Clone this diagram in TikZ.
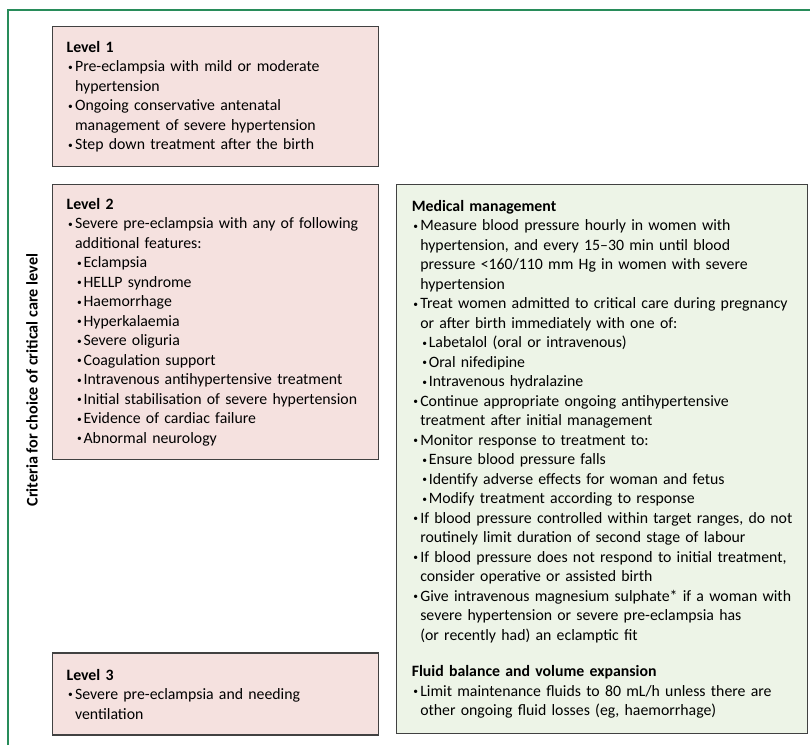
\documentclass[tikz,border=0pt]{standalone}
\usepackage{fontspec}
\setmainfont{Carlito}
\usetikzlibrary{positioning}

\definecolor{levelpink}{RGB}{245,225,223}
\definecolor{mgmtgreen}{RGB}{237,244,231}
\definecolor{framegreen}{RGB}{40,140,90}
\definecolor{boxline}{RGB}{65,65,65}

% bullets and hanging indents
\newcommand{\smalldot}{\raisebox{0.2ex}{\scalebox{0.6}{\textbullet}}}
\newcommand{\bul}{\makebox[8.5pt][l]{\hspace*{1.5pt}\smalldot}}
\newcommand{\ind}{\hspace*{8.5pt}}
\newcommand{\subbul}{\hspace*{10.5pt}\makebox[6.5pt][l]{\smalldot}}

\begin{document}
\begin{tikzpicture}[
        x = 1pt, y = -1pt,
        box/.style   = {draw=boxline, line width=1.2pt, anchor=north west, align=left,
                        inner xsep=14pt, inner ysep=0pt, font=\fontsize{15.8}{19.5}\selectfont},
        level/.style = {box, fill=levelpink, text width=298pt, minimum width=326pt},
        mgmt/.style  = {box, fill=mgmtgreen, inner xsep=15pt, text width=381pt, minimum width=411pt},
    ]
    \useasboundingbox (0,0) rectangle (810,745);
    \draw[framegreen, line width=2pt] (8,745) -- (8,10) -- (810,10);

    \node[rotate=90, font=\fontsize{16.2}{18}\selectfont\bfseries] (crit) at (32,380)
        {Criteria for choice of critical care level};

    \node[level, minimum height=140pt] (lvl1) at (52,26) {%
        \textbf{Level 1}\\
        \bul Pre-eclampsia with mild or moderate\\
        \ind hypertension\\
        \bul Ongoing conservative antenatal\\
        \ind management of severe hypertension\\
        \bul Step down treatment after the birth};

    \node[level, minimum height=275pt, below=17pt of lvl1.south west, anchor=north west] (lvl2) {%
        \textbf{Level 2}\\
        \bul Severe pre-eclampsia with any of following\\
        \ind additional features:\\
        \subbul Eclampsia\\
        \subbul HELLP syndrome\\
        \subbul Haemorrhage\\
        \subbul Hyperkalaemia\\
        \subbul Severe oliguria\\
        \subbul Coagulation support\\
        \subbul Intravenous antihypertensive treatment\\
        \subbul Initial stabilisation of severe hypertension\\
        \subbul Evidence of cardiac failure\\
        \subbul Abnormal neurology};

    \node[level, minimum height=82pt, below=192pt of lvl2.south west, anchor=north west] (lvl3) {%
        \textbf{Level 3}\\
        \bul Severe pre-eclampsia and needing\\
        \ind ventilation};

    \node[mgmt, minimum height=549pt, right=17pt of lvl2.north east, anchor=north west] (medical) {%
        \textbf{Medical management}\\
        \bul Measure blood pressure hourly in women with\\
        \ind hypertension, and every 15–30 min until blood\\
        \ind pressure <160/110 mm Hg in women with severe\\
        \ind hypertension\\
        \bul Treat women admitted to critical care during pregnancy\\
        \ind or after birth immediately with one of:\\
        \subbul Labetalol (oral or intravenous)\\
        \subbul Oral nifedipine\\
        \subbul Intravenous hydralazine\\
        \bul Continue appropriate ongoing antihypertensive\\
        \ind treatment after initial management\\
        \bul Monitor response to treatment to:\\
        \subbul Ensure blood pressure falls\\
        \subbul Identify adverse effects for woman and fetus\\
        \subbul Modify treatment according to response\\
        \bul If blood pressure controlled within target ranges, do not\\
        \ind routinely limit duration of second stage of labour\\
        \bul If blood pressure does not respond to initial treatment,\\
        \ind consider operative or assisted birth\\
        \bul Give intravenous magnesium sulphate* if a woman with\\
        \ind severe hypertension or severe pre-eclampsia has\\
        \ind (or recently had) an eclamptic fit\\[17pt]
        \textbf{Fluid balance and volume expansion}\\
        \bul Limit maintenance fluids to 80 mL/h unless there are\\
        \ind other ongoing fluid losses (eg, haemorrhage)};
\end{tikzpicture}
\end{document}
